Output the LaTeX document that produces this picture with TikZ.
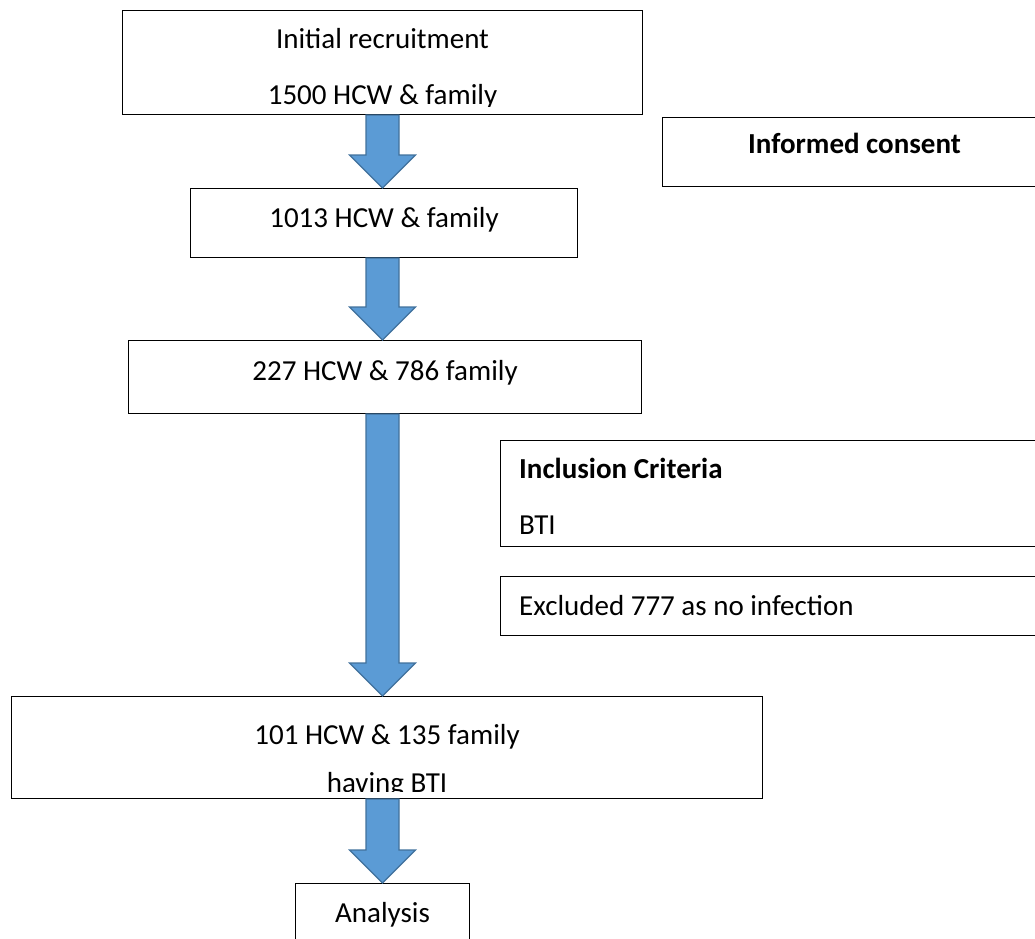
\documentclass[tikz,border=0pt]{standalone}
\usepackage{fontspec}
\setmainfont{Carlito}
\usetikzlibrary{calc}
\definecolor{arrowblue}{HTML}{5B9BD5}
\definecolor{arrowedge}{HTML}{41719C}
\begin{document}
\begin{tikzpicture}[
    x=1pt, y=-1pt,
    flowbox/.style={rectangle, draw=black, line width=1pt, inner sep=0pt, anchor=north west},
    boxtext/.style={font=\fontsize{29}{35}\selectfont, anchor=base, inner sep=0pt},
    sidetext/.style={boxtext, anchor=base west},
    bigarrow/.style={fill=arrowblue, draw=arrowedge, line width=1.2pt}
]
    \clip (0,0) rectangle (1035,938);

    % Main column
    \node[flowbox, minimum width=520pt, minimum height=104pt] (recruit) at (122,10) {};
    \node[boxtext] (recruitA) at ($(recruit.north)+(0,38)$) {Initial recruitment};
    \begin{scope}
        \clip ($(recruit.north west)$) rectangle ($(recruit.south east)+(0,-9)$);
        \node[boxtext] (recruitB) at ($(recruit.north)+(0,94)$) {1500 HCW \& family};
    \end{scope}

    \node[flowbox, minimum width=387pt, minimum height=69pt] (screened) at (190,188) {};
    \node[boxtext] (screenedA) at ($(screened.north)+(0,39)$) {1013 HCW \& family};

    \node[flowbox, minimum width=513pt, minimum height=73pt] (split) at (128,340) {};
    \node[boxtext] (splitA) at ($(split.north)+(0,40)$) {227 HCW \& 786 family};

    \node[flowbox, minimum width=751pt, minimum height=102pt] (infected) at (11,696) {};
    \node[boxtext] (infectedA) at ($(infected.north)+(0,48)$) {101 HCW \& 135 family};
    \begin{scope}
        \clip ($(infected.north west)$) rectangle ($(infected.south east)+(0,-8)$);
        \node[boxtext] (infectedB) at ($(infected.north)+(0,96)$) {having BTI};
    \end{scope}

    \node[flowbox, minimum width=174pt, minimum height=70pt] (analysis) at (295,883) {};
    \node[boxtext] (analysisA) at ($(analysis.north)+(0,39)$) {Analysis};

    % Side boxes
    \node[flowbox, minimum width=384pt, minimum height=69pt] (consent) at (662,117) {};
    \node[boxtext] (consentA) at ($(consent.north)+(0,36)$) {\textbf{Informed consent}};

    \node[flowbox, minimum width=560pt, minimum height=106pt] (criteria) at (500,440) {};
    \node[sidetext] (criteriaA) at ($(criteria.north west)+(19,38)$) {\textbf{Inclusion Criteria}};
    \node[sidetext] (criteriaB) at ($(criteria.north west)+(19,94)$) {BTI};

    \node[flowbox, minimum width=560pt, minimum height=59pt] (excluded) at (500,576) {};
    \node[sidetext] (excludedA) at ($(excluded.north west)+(19,39)$) {Excluded 777 as no infection};

    % Block arrows
    \foreach \from/\to in {recruit/screened, screened/split, split/infected, infected/analysis}
        \path[bigarrow] let \p1=(\from.south), \p2=(\to.north) in
            (366pt,\y1) -- (399pt,\y1) -- (399pt,\y2+33pt) -- (415.5pt,\y2+33pt)
            -- (382.5pt,\y2) -- (349.5pt,\y2+33pt) -- (366pt,\y2+33pt) -- cycle;
\end{tikzpicture}
\end{document}
